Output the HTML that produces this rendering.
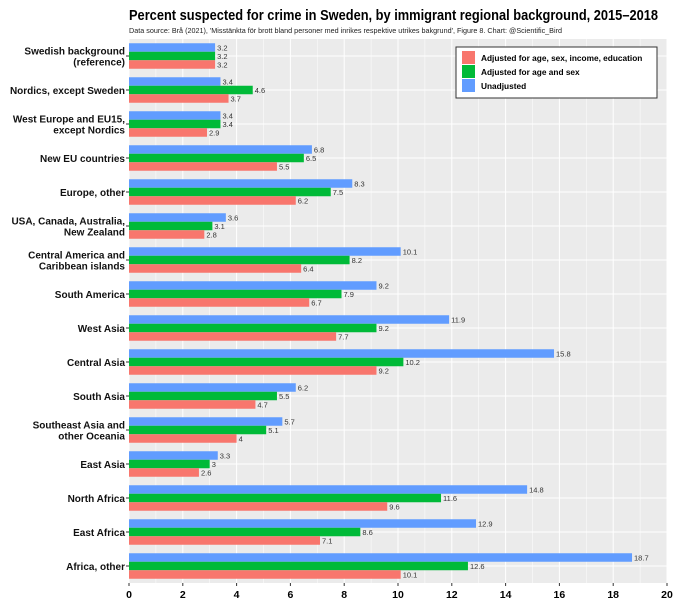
<!DOCTYPE html>
<html><head><meta charset="utf-8"><style>
body{margin:0;background:#fff;font-family:"Liberation Sans",sans-serif;}
svg{display:block}
</style></head><body>
<svg id="chart" width="680" height="610" xmlns="http://www.w3.org/2000/svg" font-family="Liberation Sans, sans-serif">
<text x="129" y="20" font-size="14.5" font-weight="bold" fill="#000" textLength="529" lengthAdjust="spacingAndGlyphs">Percent suspected for crime in Sweden, by immigrant regional background, 2015–2018</text>
<text x="129" y="33" font-size="7.3" fill="#222" textLength="433" lengthAdjust="spacingAndGlyphs">Data source: Brå (2021), 'Misstänkta för brott bland personer med inrikes respektive utrikes bakgrund', Figure 8.  Chart: @Scientific_Bird</text>
<rect x="129" y="39" width="538" height="544" fill="#ebebeb"/>
<g id="grid"></g><g id="bars"></g><g id="labels"></g><g id="axes"></g>
<g>
<rect x="456" y="47" width="201" height="51" fill="#fff" stroke="#333" stroke-width="1"/>
<rect x="462" y="51" width="13" height="13" fill="#f8766d"/>
<text x="481" y="61" font-size="8.3" font-weight="bold">Adjusted for age, sex, income, education</text>
<rect x="462" y="65" width="13" height="13" fill="#00ba38"/>
<text x="481" y="75" font-size="8.3" font-weight="bold">Adjusted for age and sex</text>
<rect x="462" y="79" width="13" height="13" fill="#619cff"/>
<text x="481" y="89" font-size="8.3" font-weight="bold">Unadjusted</text>
</g>
</svg>
<script>
const categories=[["Swedish background","(reference)"],["Nordics, except Sweden"],["West Europe and EU15,","except Nordics"],["New EU countries"],["Europe, other"],["USA, Canada, Australia,","New Zealand"],["Central America and","Caribbean islands"],["South America"],["West Asia"],["Central Asia"],["South Asia"],["Southeast Asia and","other Oceania"],["East Asia"],["North Africa"],["East Africa"],["Africa, other"]];
const unadjusted=[3.2,3.4,3.4,6.8,8.3,3.6,10.1,9.2,11.9,15.8,6.2,5.7,3.3,14.8,12.9,18.7];
const ageSex=[3.2,4.6,3.4,6.5,7.5,3.1,8.2,7.9,9.2,10.2,5.5,5.1,3,11.6,8.6,12.6];
const fullAdj=[3.2,3.7,2.9,5.5,6.2,2.8,6.4,6.7,7.7,9.2,4.7,4,2.6,9.6,7.1,10.1];
const xTicks=[0,2,4,6,8,10,12,14,16,18,20];
const NS="http://www.w3.org/2000/svg";
const x0=129,x1=667,y0=39,y1=583;
const xs=v=>x0+v/20*(x1-x0);
const step=(y1-y0)/categories.length;
const yc=i=>y0+step*(i+0.5);
const bh=8.5;
function mk(tag,attrs,parent){const e=document.createElementNS(NS,tag);for(const k in attrs)e.setAttribute(k,attrs[k]);document.getElementById(parent).appendChild(e);return e;}
for(let v=0;v<=20;v++){
  const g=mk('line',{x1:xs(v),x2:xs(v),y1:y0,y2:y1,stroke:'#fff','stroke-width':v%2?0.5:1},'grid');
  
  
}
for(let i=0;i<categories.length;i++){
  const hl=mk('line',{x1:x0,x2:x1,y1:yc(i),y2:yc(i),stroke:'#fff','stroke-width':1},'grid');
  
  
}
const series=[[unadjusted,'#619cff','unadjusted'],[ageSex,'#00ba38','agesex'],[fullAdj,'#f8766d','full']];
categories.forEach((c,i)=>{
  series.forEach(([arr,col,nm],j)=>{
    const y=yc(i)-1.5*bh+j*bh;
    const r=mk('rect',{x:x0,y:y,width:xs(arr[i])-x0,height:bh,fill:col},'bars');
    
    
    const t=mk('text',{x:xs(arr[i])+2,y:y+bh-1.5,'font-size':7.5,fill:'#333'},'labels');
    
    
    t.textContent=String(arr[i]);
  });
  const lines=c;
  lines.forEach((ln,k)=>{
    const t=mk('text',{x:125,y:yc(i)+4+(k-(lines.length-1)/2)*11,'font-size':10,'font-weight':'bold','text-anchor':'end',fill:'#111'},'axes');
    
    
    t.textContent=ln;
  });
  const tk=mk('line',{x1:126,x2:129,y1:yc(i),y2:yc(i),stroke:'#333'},'axes');
  
  
});
xTicks.forEach(v=>{
  const tk=mk('line',{x1:xs(v),x2:xs(v),y1:y1,y2:y1+3,stroke:'#333'},'axes');
  
  
  const t=mk('text',{x:xs(v),y:y1+15,'font-size':10.5,'font-weight':'bold','text-anchor':'middle'},'axes');
  
  
  t.textContent=v;
});
</script>
</body></html>
